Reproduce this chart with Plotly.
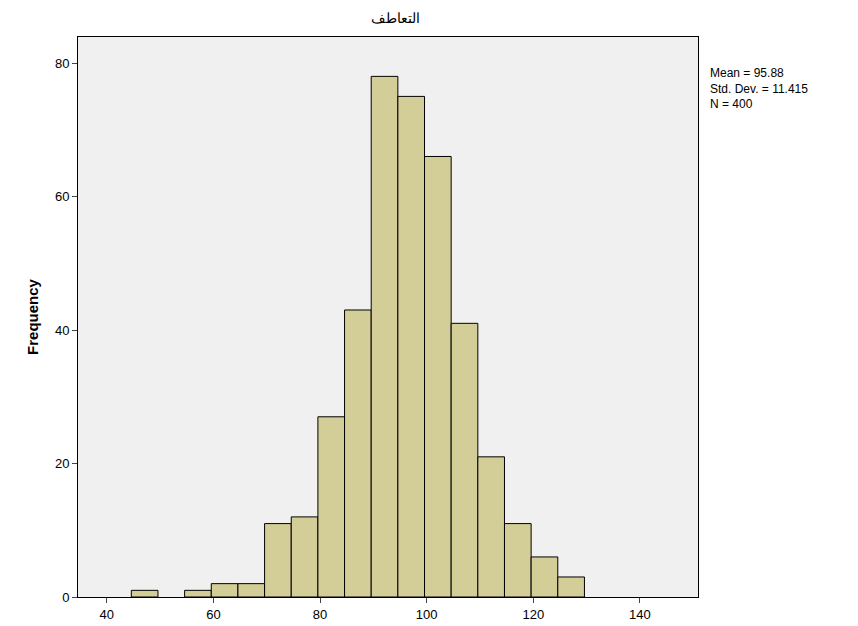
import plotly.graph_objects as go

BIN_START = [44.6, 49.6, 54.6, 59.6, 64.6, 69.6, 74.6, 79.6, 84.6, 89.6, 94.6, 99.6, 104.6, 109.6, 114.6, 119.6, 124.6]
FREQ = [1, None, 1, 2, 2, 11, 12, 27, 43, 78, 75, 66, 41, 21, 11, 6, 3]
BIN_WIDTH = 5
TICKS = [40, 60, 80, 100, 120, 140]
STATS = "Mean = 95.88<br>Std. Dev. = 11.415<br>N = 400"

fig = go.Figure(go.Bar(
    x=[b + BIN_WIDTH / 2 for b in BIN_START],
    y=FREQ,
    width=BIN_WIDTH,
    marker=dict(color="#d3ce97", line=dict(color="black", width=1)),
))

# page body has an 8px margin, so the figure is a little smaller than the window
fig.update_layout(
    width=842, height=618,
    paper_bgcolor="white", plot_bgcolor="#f0f0f0",
    margin=dict(l=70, r=152, t=29, b=29, autoexpand=False),
    showlegend=False,
    font=dict(family="Liberation Sans, Arial", size=13, color="black"),
    title=dict(text="التعاطف", x=0.46, xanchor="center", y=0.992, yanchor="top",
               font=dict(size=14)),
    xaxis=dict(range=[34.6, 150.9], tickvals=TICKS, showgrid=False, zeroline=False,
               ticks="outside", ticklen=5, showline=True, linecolor="black", mirror=True,
               automargin=False),
    yaxis=dict(range=[0, 83.9], tickvals=[0, 20, 40, 60, 80], showgrid=False, zeroline=False,
               ticks="outside", ticklen=5, showline=True, linecolor="black", mirror=True,
               automargin=False,
               title=dict(text="<b>Frequency</b>", font=dict(size=15), standoff=12)),
    annotations=[dict(text=STATS, xref="paper", yref="paper", x=1.016, y=0.952,
                      xanchor="left", yanchor="top", showarrow=False, align="left",
                      font=dict(size=12))],
)

fig.write_html("out.html")
